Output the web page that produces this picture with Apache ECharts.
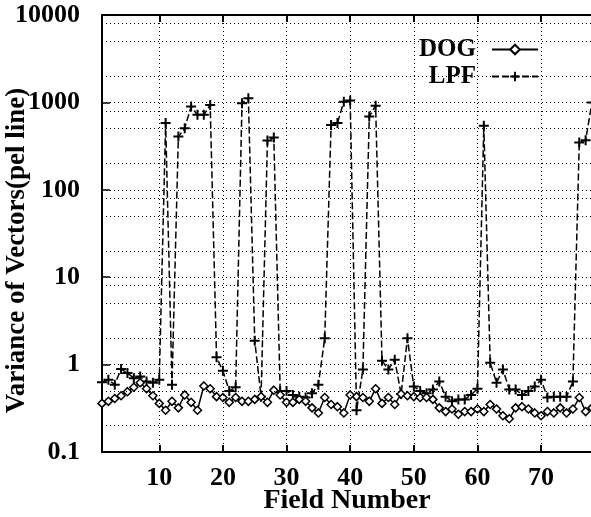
<!DOCTYPE html>
<html>
<head>
<meta charset="utf-8">
<script src="https://cdn.jsdelivr.net/npm/echarts@6/dist/echarts.min.js"></script>
<style>
  html, body { margin: 0; padding: 0; background: #fff; }
  #main { width: 591px; height: 517px; }
</style>
</head>
<body>
<div id="main"></div>
<script>
var fields = [1, 2, 3, 4, 5, 6, 7, 8, 9, 10, 11, 12, 13, 14, 15, 16, 17, 18, 19, 20,
  21, 22, 23, 24, 25, 26, 27, 28, 29, 30, 31, 32, 33, 34, 35, 36, 37, 38, 39, 40,
  41, 42, 43, 44, 45, 46, 47, 48, 49, 50, 51, 52, 53, 54, 55, 56, 57, 58, 59, 60,
  61, 62, 63, 64, 65, 66, 67, 68, 69, 70, 71, 72, 73, 74, 75, 76, 77, 78];

// variance of vectors, DOG filter
var dog = [0.36, 0.38, 0.41, 0.44, 0.49, 0.55, 0.62, 0.53, 0.44, 0.36,
  0.30, 0.38, 0.32, 0.45, 0.37, 0.30, 0.57, 0.53, 0.43, 0.42,
  0.37, 0.42, 0.38, 0.38, 0.40, 0.43, 0.37, 0.51, 0.45, 0.37,
  0.37, 0.40, 0.38, 0.32, 0.28, 0.42, 0.35, 0.33, 0.28, 0.45,
  0.43, 0.42, 0.38, 0.53, 0.36, 0.42, 0.35, 0.46, 0.44, 0.43,
  0.42, 0.42, 0.40, 0.32, 0.29, 0.31, 0.27, 0.29, 0.29, 0.31,
  0.29, 0.35, 0.31, 0.26, 0.24, 0.32, 0.33, 0.31, 0.28, 0.26,
  0.29, 0.28, 0.32, 0.28, 0.31, 0.42, 0.29, 0.32];

// variance of vectors, LPF
var lpf = [0.63, 0.67, 0.59, 0.89, 0.80, 0.70, 0.73, 0.64, 0.62, 0.67,
  580, 0.59, 406, 507, 896, 720, 720, 936, 1.21, 0.85,
  0.50, 0.55, 980, 1117, 1.88, 0.43, 366, 396, 0.50, 0.50,
  0.45, 0.43, 0.42, 0.47, 0.59, 2.0, 553, 580, 1020, 1050,
  0.30, 0.88, 689, 918, 1.11, 0.88, 1.14, 0.46, 2.0, 0.56,
  0.50, 0.47, 0.52, 0.64, 0.43, 0.38, 0.40, 0.40, 0.45, 0.53,
  539, 1.05, 0.62, 0.88, 0.52, 0.52, 0.45, 0.50, 0.56, 0.67,
  0.42, 0.43, 0.43, 0.43, 0.64, 348, 370, 1000];

var xTicks = [10, 20, 30, 40, 50, 60, 70];
var yGrid = [0.2, 0.5, 0.8, 1, 2, 5, 8, 10, 20, 50, 80, 100, 200, 500, 800, 1000, 2000, 5000, 8000];

var font = 'Liberation Serif';
var chart = echarts.init(document.getElementById('main'));

var gridLines = [];
yGrid.forEach(function (v) { gridLines.push({ yAxis: v }); });
xTicks.forEach(function (v) { gridLines.push({ xAxis: v }); });

function pairs(ys) {
  return fields.map(function (f, i) { return [f, ys[i]]; });
}

chart.setOption({
  animation: false,
  grid: { left: 102, top: 15, right: -1, bottom: 65, containLabel: false, outerBoundsMode: 'none' },
  legend: {
    orient: 'vertical',
    right: 47,
    top: 32,
    align: 'right',
    itemWidth: 46,
    itemHeight: 12,
    itemGap: 2,
    textStyle: { fontFamily: font, fontWeight: 'bold', fontSize: 25, color: '#000', lineHeight: 25, padding: [0, 11, 0, 0] },
    data: ['DOG', 'LPF']
  },
  xAxis: [{
    type: 'value',
    min: 1,
    max: 78,
    name: 'Field Number',
    nameLocation: 'middle',
    nameGap: 35,
    nameMoveOverlap: false,
    nameTextStyle: { fontFamily: font, fontWeight: 'bold', fontSize: 28, color: '#000' },
    axisLine: { lineStyle: { color: '#000', width: 2 } },
    axisTick: { inside: true, length: 7, lineStyle: { color: '#000', width: 2 }, customValues: xTicks },
    axisLabel: { customValues: xTicks, margin: 13, fontFamily: font, fontWeight: 'bold', fontSize: 26, color: '#000' },
    splitLine: { show: false }
  }, {
    type: 'value',
    position: 'top',
    min: 1,
    max: 78,
    axisLine: { lineStyle: { color: '#000', width: 2 } },
    axisTick: { inside: true, length: 7, lineStyle: { color: '#000', width: 2 }, customValues: xTicks },
    axisLabel: { show: false },
    splitLine: { show: false }
  }],
  yAxis: {
    type: 'log',
    logBase: 10,
    min: 0.1,
    max: 10000,
    name: 'Variance of Vectors(pel line)',
    nameLocation: 'middle',
    nameGap: 71,
    nameMoveOverlap: false,
    nameTextStyle: { fontFamily: font, fontWeight: 'bold', fontSize: 27, color: '#000', padding: [0, 34, 0, 0] },
    axisLine: { show: true, lineStyle: { color: '#000', width: 2 } },
    axisTick: { inside: true, length: 8, lineStyle: { color: '#000', width: 1.5 } },
    axisLabel: {
      margin: 22,
      fontFamily: font, fontWeight: 'bold', fontSize: 26, color: '#000',
      formatter: function (v) { return String(+v.toPrecision(3)); }
    },
    splitLine: { show: false }
  },
  series: [{
    name: 'DOG',
    type: 'line',
    data: pairs(dog),
    symbol: 'diamond',
    symbolSize: 8,
    showAllSymbol: true,
    itemStyle: { color: '#fff', borderColor: '#000', borderWidth: 1.5 },
    lineStyle: { color: '#000', width: 1.5 },
    z: 3,
    markLine: {
      silent: true,
      symbol: 'none',
      label: { show: false },
      lineStyle: { color: '#000', width: 1, type: [1, 3] },
      data: gridLines
    }
  }, {
    name: 'LPF',
    type: 'line',
    data: pairs(lpf),
    symbol: 'path://M4,0h2v4h4v2h-4v4h-2v-4h-4v-2h4z',
    symbolSize: 10,
    showAllSymbol: true,
    itemStyle: { color: '#000' },
    lineStyle: { color: '#000', width: 1.5, type: [7, 3] },
    z: 2
  }]
});
</script>
</body>
</html>
